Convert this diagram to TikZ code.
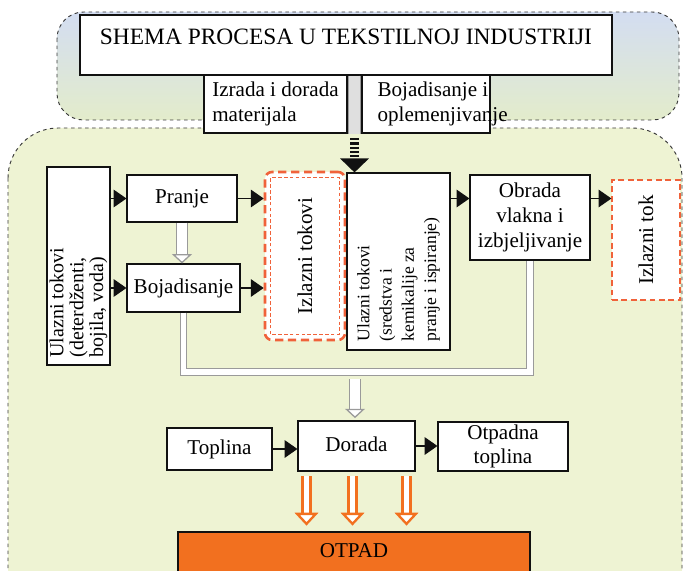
\documentclass[tikz,border=0pt]{standalone}
\usepackage{fontspec}
\setmainfont{Liberation Serif}
\usetikzlibrary{arrows.meta,positioning,calc}
\definecolor{ink}{HTML}{111111}
\definecolor{skytop}{HTML}{D3DDF1}
\definecolor{leafbot}{HTML}{E3ECCB}
\definecolor{leaf}{HTML}{EEF3D3}
\definecolor{rim}{HTML}{3A3A3A}
\definecolor{ember}{HTML}{F0623A}
\definecolor{rust}{HTML}{F2701F}
\definecolor{pipegrey}{HTML}{9A9A9A}

\tikzset{
  box/.style={draw=ink,fill=white,line width=0.9pt,inner sep=2pt},
  outbox/.style={draw=ember,fill=white,line width=1pt,dash pattern=on 5pt off 3pt},
  flow/.style={draw=ink,line width=1.2pt,-{Triangle[length=11pt,width=15pt]}},
  pipe/.style={draw=pipegrey,double=white,double distance=4.5pt,line width=1.1pt},
  grey arrow/.style={draw=pipegrey,double=white,double distance=8pt,line width=1.1pt,
    -{Triangle[open,fill=white,length=8pt,width=17pt,line width=1.1pt]}},
  waste/.style={draw=rust,double=white,double distance=5pt,line width=2pt,
    -{Triangle[open,fill=white,length=11pt,width=20pt,line width=2pt]},shorten <=4pt,shorten >=5pt},
  txt/.style={font=\fontsize{18}{21}\selectfont,align=center},
}

\begin{document}
\begin{tikzpicture}[x=0.03cm,y=-0.03cm]
  \useasboundingbox (0,0) rectangle (683,571);
  \clip (0,0) rectangle (683,571);
  % backgrounds
  \shade[top color=skytop,bottom color=leafbot,rounded corners=0.8cm] (57,12) rectangle (679,120);
  \draw[rim,dashed,line width=0.8pt,rounded corners=0.8cm] (57,12) rectangle (679,120);
  \fill[leaf,rounded corners=1.5cm] (8,128) rectangle (682,620);
  \draw[rim,dashed,line width=0.8pt,rounded corners=1.5cm] (8,128) rectangle (682,620);

  % top
  \node[box,txt,font=\fontsize{20}{23}\selectfont,minimum width=15.96cm,minimum height=1.8cm,text height=20pt,text depth=20pt] (title) at (346,45) {SHEMA PROCESA U TEKSTILNOJ INDUSTRIJI};
  \node[box,txt,align=flush left,minimum width=4.29cm,minimum height=1.74cm,inner xsep=4pt] (izrada) at (275.5,104) {Izrada i dorada\\materijala};
  \node[box,minimum width=3.84cm,minimum height=1.74cm] (bojop) at (426,104) {};
  \node[txt,align=flush left,anchor=west] (bojoptxt) at ($(bojop.west)+(12,0)$) {Bojadisanje i\\oplemenjivanje};
  \coordinate (gap) at ($(izrada.south east)!0.5!(bojop.south west)$);
  \draw[draw=pipegrey,double=gray!25,double distance=9pt,line width=1pt] (gap |- title.south) -- (gap);

  % left part
  \node[box,minimum width=1.89cm,minimum height=5.94cm] (ulaz1) at (78.5,266) {};
  \node[txt,rotate=90,align=flush left,anchor=west,font=\fontsize{17}{17}\selectfont] (ulaz1txt) at ($(ulaz1.south)+(0,-4)$) {Ulazni tokovi\\(deterdženti,\\bojila, voda)};
  \node[box,txt,minimum width=3.3cm,minimum height=1.41cm] (pranje) at (182,198.5) {Pranje};
  \node[box,txt,minimum width=3.39cm,minimum height=1.44cm] (bojad) at (183.5,288) {Bojadisanje};
  \node[outbox,line width=2.2pt,rounded corners=6pt,dash pattern=on 7pt off 4pt,minimum width=2.4cm,minimum height=5.04cm] (izlazi) at (305,256) {};
  \draw[ember,line width=0.7pt,dash pattern=on 3pt off 2pt] ($(izlazi.south west)+(7,-7)$) rectangle ($(izlazi.north east)+(-7,7)$);
  \node[txt,rotate=90] (izlazitxt) at (izlazi) {Izlazni tokovi};

  % middle and right
  \node[box,minimum width=3.09cm,minimum height=5.31cm] (ulaz2) at (398.5,261.5) {};
  \node[txt,rotate=90,align=flush left,anchor=west,font=\fontsize{15}{19}\selectfont] (ulaz2txt) at ($(ulaz2.south)+(0,-5)$) {Ulazni tokovi\\(sredstva i\\kemikalije za\\pranje i ispiranje)};
  \node[box,txt,minimum width=3.6cm,minimum height=2.55cm] (obrada) at (530,217.5) {Obrada\\vlakna i\\izbjeljivanje};
  \node[outbox,minimum width=2.04cm,minimum height=3.6cm] (izlaztok) at (646,240) {};
  \node[txt,rotate=90] (izlaztoktxt) at (izlaztok) {Izlazni tok};

  % bottom
  \node[box,txt,minimum width=3.15cm,minimum height=1.26cm] (toplina) at (219.5,449) {Toplina};
  \node[box,txt,minimum width=3.51cm,minimum height=1.5cm,text height=17pt,text depth=8pt] (dorada) at (356.5,446) {Dorada};
  \node[box,txt,minimum width=3.9cm,minimum height=1.47cm] (otpadna) at (503,446.5) {Otpadna\\toplina};
  \node[box,txt,fill=rust,minimum width=10.56cm,minimum height=1.38cm,text height=20pt,text depth=15pt] (otpad) at (354,555) {OTPAD};

  % connectors
  \draw[draw=ink,line width=8pt,dash pattern=on 1.8pt off 1.8pt,-{Triangle[length=12pt,width=24pt]},shorten <=4pt] (gap) -- (gap |- ulaz2.north);
  \draw[flow] (ulaz1.east |- pranje) -- (pranje);
  \draw[flow] (ulaz1.east |- bojad) -- (bojad);
  \draw[flow] (pranje) -- (izlazi.west |- pranje);
  \draw[flow] (bojad) -- (izlazi.west |- bojad);
  \draw[grey arrow] (pranje.south) -- (pranje.south |- bojad.north);
  \draw[flow] (ulaz2.east |- pranje) -- (obrada.west |- pranje);
  \draw[flow] (obrada.east |- pranje) -- (izlaztok.west |- pranje);
  \coordinate (collect) at (355,372);
  \draw[pipe] (bojad.south) -- (bojad.south |- collect) -- (obrada.south |- collect) -- (obrada.south);
  \draw[grey arrow,shorten <=6pt,shorten >=2pt] (collect) -- (collect |- dorada.north);
  \draw[flow] (toplina) -- (dorada.west |- toplina);
  \draw[flow] (dorada) -- (otpadna.west |- dorada);
  \foreach \dx in {-50,-4,50}{
    \coordinate (drop) at ($(dorada.south)+(\dx,0)$);
    \draw[waste] (drop) -- (drop |- otpad.north);
  }
\end{tikzpicture}
\end{document}
